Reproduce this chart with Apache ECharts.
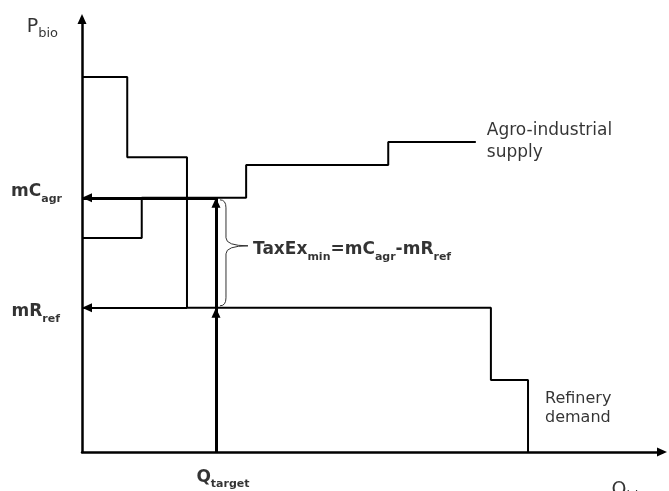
<!DOCTYPE html>
<html>
<head>
<meta charset="utf-8">
<script src="https://cdn.jsdelivr.net/npm/echarts@6/dist/echarts.min.js"></script>
<style>
  html, body { margin: 0; padding: 0; background: #fff; }
  #chart { width: 669px; height: 491px; }
</style>
</head>
<body>
<div id="chart"></div>
<script>
// step corners (axis range 0..100 on both axes)
const demandQ = [0, 7.8, 18.1, 70.5, 76.9]
const demandP = [86.6, 68.1, 33.3, 16.6, 0]
const supplyQ = [0, 10.3, 28.3, 52.8, 67.9]
const supplyP = [49.4, 58.7, 66.3, 71.6, 71.6]
const qTarget = 23.1
const mCagr = supplyP[1]
const mRref = demandP[2]

const font = 'DejaVu Sans'
// main text and subscript tokens, subscripts pushed down with top padding
const rich = {
  B: { fontFamily: font, fontWeight: 'bold', fontSize: 17, verticalAlign: 'top', color: '#000' },
  bs: { fontFamily: font, fontWeight: 'bold', fontSize: 11, verticalAlign: 'top', padding: [10, 0, 0, 0], color: '#000' },
  R: { fontFamily: font, fontSize: 19, verticalAlign: 'top', color: '#000' },
  rs: { fontFamily: font, fontSize: 13, verticalAlign: 'top', padding: [9, 0, 0, 0], color: '#000' }
}

const zip = (a, b) => a.map((v, i) => [v, b[i]])

const chart = echarts.init(document.getElementById('chart'))

const axisLine = {
  show: true,
  symbol: ['none', 'triangle'],
  symbolSize: [9, 10],
  lineStyle: { color: '#000', width: 2.5 }
}

const thick = { width: 3, color: '#000', type: 'solid' }
const thin = { width: 2, color: '#000', type: 'solid' }

const option = {
  backgroundColor: '#fff',
  animation: false,
  grid: { left: 82, right: 7, top: 19, bottom: 39 },
  xAxis: {
    type: 'value', min: 0, max: 100,
    axisLine: axisLine,
    axisTick: { show: false }, axisLabel: { show: false }, splitLine: { show: false }
  },
  yAxis: {
    type: 'value', min: 0, max: 100,
    axisLine: axisLine,
    axisTick: { show: false }, axisLabel: { show: false }, splitLine: { show: false }
  },
  series: [
    {
      name: 'demand',
      type: 'line',
      step: 'end',
      symbol: 'none',
      data: zip(demandQ, demandP),
      lineStyle: { color: '#000', width: 2 }
    },
    {
      name: 'supply',
      type: 'line',
      step: 'end',
      symbol: 'none',
      data: zip(supplyQ, supplyP),
      lineStyle: { color: '#000', width: 2 }
    },
    {
      name: 'arrows',
      type: 'line',
      data: [],
      markLine: {
        silent: true,
        symbol: ['none', 'triangle'],
        symbolSize: [9, 10],
        symbolOffset: [[0, 0], [0, 5]],
        label: { show: false },
        data: [
          [{ coord: [qTarget, mCagr], lineStyle: thick }, { coord: [0, mCagr] }],
          [{ coord: [qTarget, 0], lineStyle: thick }, { coord: [qTarget, mCagr] }],
          [{ coord: [qTarget, 0], lineStyle: thick }, { coord: [qTarget, mRref] }],
          [{ coord: [demandQ[2], mRref], lineStyle: thin }, { coord: [0, mRref] }]
        ]
      }
    },
    {
      name: 'brace',
      type: 'custom',
      silent: true,
      data: [[qTarget, mRref, mCagr]],
      renderItem: function (params, api) {
        const bottom = api.coord([api.value(0), api.value(1)])
        const top = api.coord([api.value(0), api.value(2)])
        const x0 = top[0] + 4
        const xs = x0 + 6
        const yT = top[1] + 2
        const yB = bottom[1] - 2
        const yM = (yT + yB) / 2 - 7
        const path = 'M' + x0 + ',' + yT +
          ' Q' + xs + ',' + yT + ' ' + xs + ',' + (yT + 8) +
          ' L' + xs + ',' + (yM - 8) +
          ' Q' + xs + ',' + yM + ' ' + (xs + 22) + ',' + yM +
          ' Q' + xs + ',' + yM + ' ' + xs + ',' + (yM + 8) +
          ' L' + xs + ',' + (yB - 8) +
          ' Q' + xs + ',' + yB + ' ' + x0 + ',' + yB
        return {
          type: 'path',
          shape: { pathData: path },
          style: { fill: null, stroke: '#333', lineWidth: 1 }
        }
      }
    },
    {
      name: 'labels',
      type: 'scatter',
      symbolSize: 0,
      silent: true,
      clip: false,
      data: [
        { value: [0, mCagr], label: { show: true, position: 'left', distance: 20, offset: [0, -4], formatter: '{B|mC}{bs|agr}', rich: rich } },
        { value: [0, mRref], label: { show: true, position: 'left', distance: 22, offset: [0, 6], formatter: '{B|mR}{bs|ref}', rich: rich } },
        { value: [qTarget, 0], label: { show: true, position: 'bottom', distance: 17, offset: [7, 0], formatter: '{B|Q}{bs|target}', rich: rich } },
        { value: [qTarget, (mCagr + mRref) / 2], label: { show: true, position: 'right', distance: 37, offset: [0, -1], formatter: '{B|TaxEx}{bs|min}{B|=mC}{bs|agr}{B|-mR}{bs|ref}', rich: rich } },
        { value: [0, 100], label: { show: true, position: 'left', distance: 24, offset: [0, 10], formatter: '{R|P}{rs|bio}', rich: rich } },
        { value: [100, 0], label: { show: true, position: 'bottom', distance: 29, offset: [-33, 0], formatter: '{R|Q}{rs|bio}', rich: rich } },
        { value: [supplyQ[4], supplyP[4]], label: { show: true, position: 'right', distance: 11, formatter: 'Agro-industrial\nsupply', fontFamily: font, fontSize: 17, lineHeight: 22, color: '#000', align: 'left' } },
        { value: [demandQ[4], demandP[3]], label: { show: true, position: 'right', distance: 17, offset: [0, 28], formatter: 'Refinery\ndemand', fontFamily: font, fontSize: 16, lineHeight: 19, color: '#000', align: 'left' } }
      ]
    }
  ]
}

chart.setOption(option)
window.addEventListener('resize', chart.resize)
</script>
</body>
</html>
